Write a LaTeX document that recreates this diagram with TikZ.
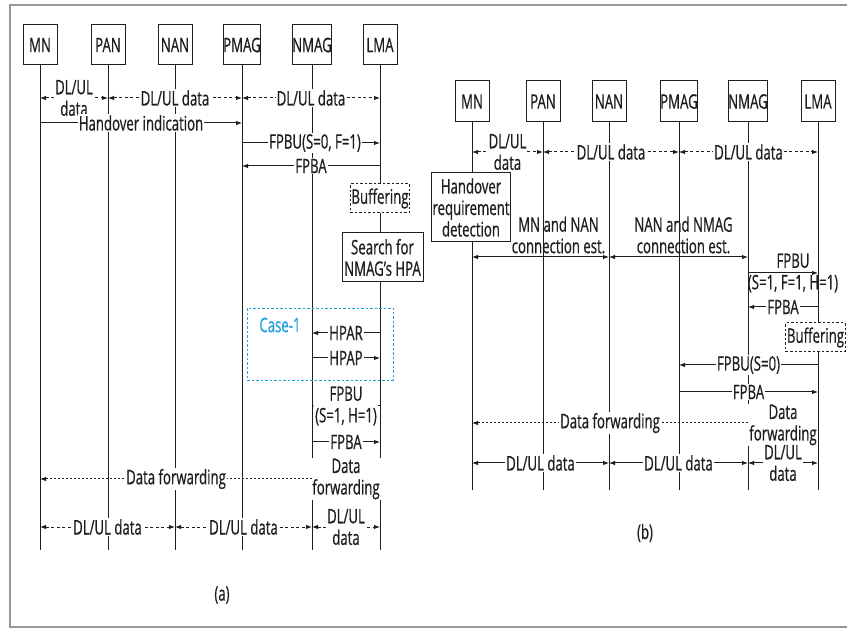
\documentclass[tikz,border=0pt]{standalone}
\usepackage{fontspec}
\setmainfont{Open Sans}[FakeStretch=0.66, FakeBold=0.6]
\usetikzlibrary{arrows.meta,positioning}

\definecolor{caseblue}{RGB}{30,160,225}
\definecolor{framegray}{RGB}{150,150,150}
\definecolor{ink}{RGB}{30,30,30}
\newcommand{\msgfont}{\fontsize{20}{21.5}\selectfont}

\tikzset{
  ent/.style={draw=ink, line width=1pt, fill=white, minimum width=34pt,
    minimum height=40pt, inner sep=0pt, font=\msgfont, text=ink},
  life/.style={draw=ink, line width=1pt},
  msg/.style={draw=ink, line width=1pt, -{Latex[length=6pt,width=4.5pt]}},
  bi/.style={msg, {Latex[length=6pt,width=4.5pt]}-{Latex[length=6pt,width=4.5pt]}},
  dl/.style={bi, dash pattern=on 3pt off 2.5pt},
  fwd/.style={msg, dash pattern=on 2pt off 2pt},
  lbl/.style={fill=white, inner sep=1pt, font=\msgfont, text=ink, align=center},
  note/.style={draw=ink, line width=1pt, fill=white, inner sep=1pt,
    font=\msgfont, text=ink, align=center},
  buf/.style={note, dash pattern=on 2.5pt off 2pt, minimum width=54pt, minimum height=29pt},
}

\begin{document}
\begin{tikzpicture}[x=1pt,y=-1pt]
  \useasboundingbox (0,0) rectangle (847,628);

  % Rahmen
  \draw[framegray, line width=1.5pt] (847,5) -- (10,5) -- (10,627) -- (847,627);

  % ---------------- (a) ----------------
  \foreach \n/\x in {MN/40,PAN/108,NAN/175,PMAG/242,NMAG/312,LMA/380}
    {
      \draw[life] (\x,65) -- (\x,550);
      \node[ent] (a\n) at (\x,45) {\n};
    }

  % DL/UL data sebelum handover
  \draw[dl] (aMN |- 0,98) -- node[lbl] {DL/UL\\data} (aPAN |- 0,98);
  \draw[dl] (aPAN |- 0,98) -- node[lbl] {DL/UL data} (aPMAG |- 0,98);
  \draw[dl] (aPMAG |- 0,98) -- node[lbl] {DL/UL data} (aLMA |- 0,98);

  \draw[msg] (aMN |- 0,123) -- node[lbl] {Handover indication} (aPMAG |- 0,123);
  \draw[msg] (aPMAG |- 0,143) -- node[lbl, xshift=4pt] {FPBU(S=0, F=1)} (aLMA |- 0,143);
  \draw[msg] (aLMA |- 0,166) -- node[lbl] {FPBA} (aPMAG |- 0,166);

  \node[buf] (aBuf) at (380,198.5) {Buffering};
  \node[note, minimum width=81pt, minimum height=49pt] (aSearch) at (382.5,257.5)
    {Search for\\NMAG’s HPA};

  % Case-1
  \node[draw=caseblue, line width=0.9pt, dash pattern=on 2.5pt off 2pt,
    minimum width=146pt, minimum height=72pt] (case) at (320,344) {};
  \node[font=\msgfont, text=caseblue] (caseTxt) at (280,325) {Case-1};
  \draw[msg] (aLMA |- 0,333) -- node[lbl] {HPAR} (aNMAG |- 0,333);
  \draw[msg] (aNMAG |- 0,358) -- node[lbl] {HPAP} (aLMA |- 0,358);

  \draw[msg] (aLMA |- 0,406) -- node[lbl] {FPBU\\(S=1, H=1)} (aNMAG |- 0,406);
  \draw[msg] (aNMAG |- 0,442) -- node[lbl] {FPBA} (aLMA |- 0,442);
  \draw[msg] (aLMA |- 0,479) -- node[lbl] {Data\\forwarding} (aNMAG |- 0,479);
  \draw[fwd] (aNMAG |- 0,479) -- node[lbl] {Data forwarding} (aMN |- 0,479);

  % DL/UL data sesudah handover
  \draw[dl] (aMN |- 0,527) -- node[lbl] {DL/UL data} (aNAN |- 0,527);
  \draw[dl] (aNAN |- 0,527) -- node[lbl] {DL/UL data} (aNMAG |- 0,527);
  \draw[dl] (aNMAG |- 0,527) -- node[lbl] {DL/UL\\data} (aLMA |- 0,527);

  \node[font=\msgfont, text=ink] (capA) at (222,595) {(a)};

  % ---------------- (b) ----------------
  \foreach \n/\x in {MN/472,PAN/543,NAN/609,PMAG/679,NMAG/748,LMA/818}
    {
      \draw[life] (\x,122) -- (\x,490);
      \node[ent, minimum height=41pt] (b\n) at (\x,101.5) {\n};
    }

  \draw[dl] (bMN |- 0,152) -- node[lbl] {DL/UL\\data} (bPAN |- 0,152);
  \draw[dl] (bPAN |- 0,152) -- node[lbl] {DL/UL data} (bPMAG |- 0,152);
  \draw[dl] (bPMAG |- 0,152) -- node[lbl] {DL/UL data} (bLMA |- 0,152);

  \node[note, minimum width=72pt, minimum height=69pt] (bDetect) at (471,207.5)
    {Handover\\requirement\\detection};

  \draw[bi] (bMN |- 0,257) -- node[lbl, fill=none, above=2pt, xshift=18pt] {MN and NAN\\connection est.} (bNAN |- 0,257);
  \draw[bi] (bNAN |- 0,257) -- node[lbl, fill=none, above=2pt, xshift=5pt] {NAN and NMAG\\connection est.} (bNMAG |- 0,257);

  \draw[msg] (bNMAG |- 0,273) -- node[lbl, fill=none, xshift=10pt] {FPBU\\(S=1, F=1, H=1)} (bLMA |- 0,273);
  \draw[msg] (bLMA |- 0,307) -- node[lbl] {FPBA} (bNMAG |- 0,307);

  \node[buf] (bBuf) at (815.5,337.5) {Buffering};

  \draw[msg] (bLMA |- 0,365) -- node[lbl] {FPBU(S=0)} (bPMAG |- 0,365);
  \draw[msg] (bPMAG |- 0,392) -- node[lbl] {FPBA} (bLMA |- 0,392);
  \draw[msg] (bLMA |- 0,423) -- node[lbl, yshift=-2pt] {Data\\forwarding} (bNMAG |- 0,423);
  \draw[fwd] (bNMAG |- 0,423) -- node[lbl] {Data forwarding} (bMN |- 0,423);

  \draw[bi] (bMN |- 0,463) -- node[lbl] {DL/UL data} (bNAN |- 0,463);
  \draw[bi] (bNAN |- 0,463) -- node[lbl] {DL/UL data} (bNMAG |- 0,463);
  \draw[bi] (bNMAG |- 0,463) -- node[lbl] {DL/UL\\data} (bLMA |- 0,463);

  \node[font=\msgfont, text=ink] (capB) at (645,533) {(b)};
\end{tikzpicture}
\end{document}
